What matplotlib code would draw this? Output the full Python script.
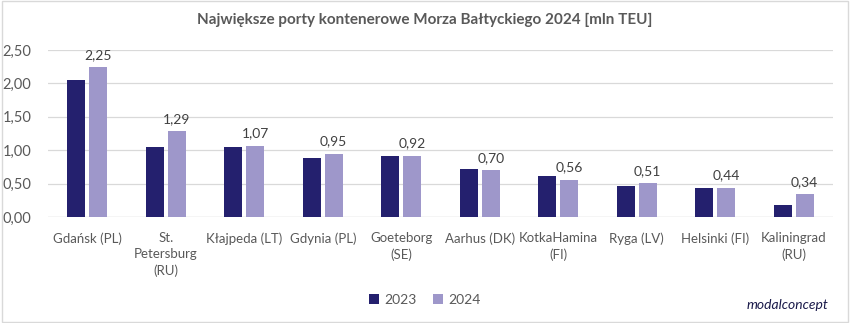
import numpy as np
import matplotlib.pyplot as plt
from matplotlib.patches import Rectangle

plt.rcParams['font.family'] = ['Lato', 'DejaVu Sans']

ports = ['Gdańsk (PL)', 'St.\nPetersburg\n(RU)', 'Kłajpeda (LT)', 'Gdynia (PL)', 'Goeteborg\n(SE)',
         'Aarhus (DK)', 'KotkaHamina\n(FI)', 'Ryga (LV)', 'Helsinki (FI)', 'Kaliningrad\n(RU)']
teu_2023 = [2.05, 1.05, 1.05, 0.88, 0.91, 0.72, 0.62, 0.47, 0.44, 0.18]
teu_2024 = [2.25, 1.29, 1.07, 0.95, 0.92, 0.70, 0.56, 0.51, 0.44, 0.34]

c23 = '#24206e'
c24 = '#9e97ca'
txt = '#595959'

fig = plt.figure(figsize=(8.5, 3.23), dpi=100)
ax = fig.add_axes([48 / 850, 1 - 217 / 323, 785 / 850, 167 / 323])

x = np.arange(len(ports))
w = 0.23
ax.bar(x - 0.14, teu_2023, w, color=c23, label='2023', zorder=3)
b24 = ax.bar(x + 0.14, teu_2024, w, color=c24, label='2024', zorder=3)

for rect, v in zip(b24, teu_2024):
    ax.text(rect.get_x() + rect.get_width() / 2, v + 0.09, f'{v:.2f}'.replace('.', ','),
            ha='center', va='bottom', fontsize=10, color='#404040')

ax.set_xlim(-0.5, len(ports) - 0.5)
ax.set_ylim(0, 2.5)
yt = np.arange(0, 2.51, 0.5)
ax.set_yticks(yt)
ax.set_yticklabels([f'{t:.2f}'.replace('.', ',') for t in yt], fontsize=10.5, color=txt)
ax.set_xticks(x)
ax.set_xticklabels(ports, fontsize=9.5, color=txt, linespacing=1.4)
ax.tick_params(axis='x', length=0, pad=11)
ax.tick_params(axis='y', length=0, pad=12)
ax.yaxis.grid(True, color='#d9d9d9', linewidth=0.9, zorder=0)
for s in ax.spines.values():
    s.set_visible(False)
ax.axhline(0, color='#d9d9d9', linewidth=0.9, zorder=2)

fig.text(0.5, 1 - 20 / 323, 'Największe porty kontenerowe Morza Bałtyckiego 2024 [mln TEU]',
         ha='center', va='center', fontsize=11, fontweight='bold', color=txt)

fig.legend(loc='center', bbox_to_anchor=(0.5, 1 - 300 / 323), ncol=2, frameon=False,
           fontsize=10, handlelength=0.7, handleheight=0.7, columnspacing=1.2,
           handletextpad=0.4, labelcolor=txt)

fig.text(0.975, 1 - 305 / 323, 'modalconcept', ha='right', va='center', fontsize=10,
         color='#1a1a4a', style='italic')

fig.patches.append(Rectangle((0.002, 0.004), 0.996, 0.992, transform=fig.transFigure,
                             fill=False, edgecolor='#d9d9d9', linewidth=1))

fig.savefig('out.png', dpi=100)
